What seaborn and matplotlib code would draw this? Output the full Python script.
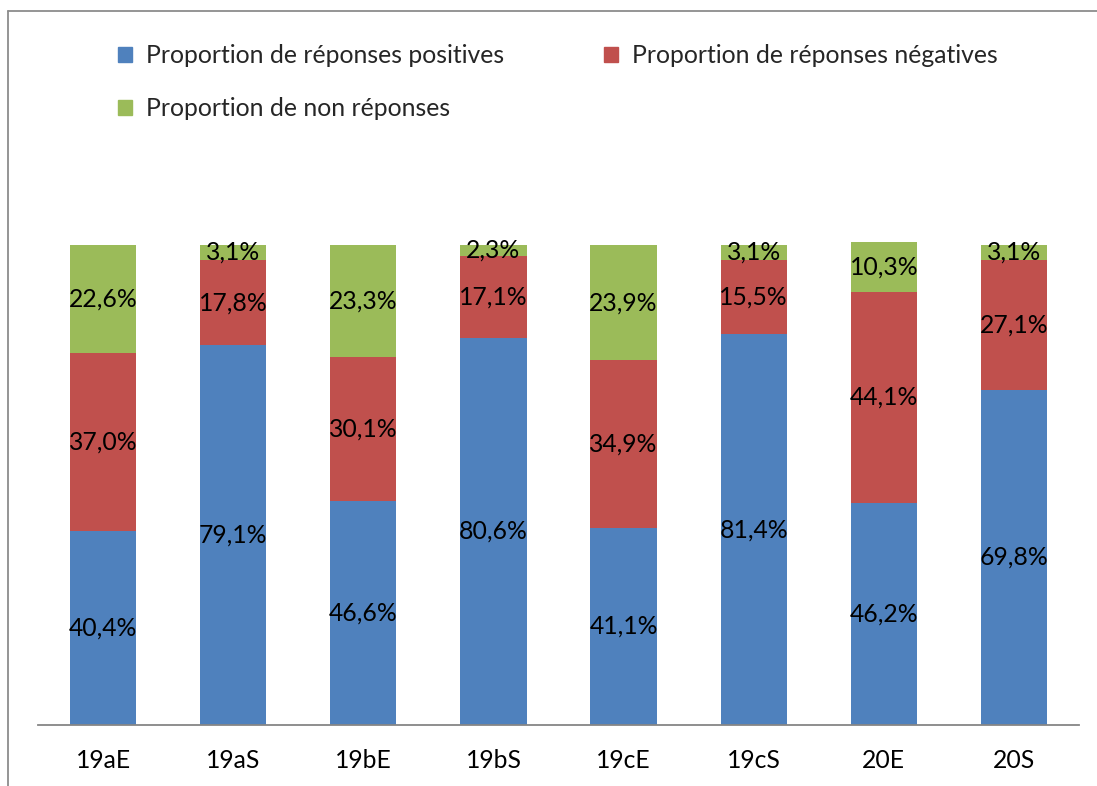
import matplotlib
matplotlib.use("Agg")
import matplotlib.pyplot as plt
import seaborn as sns
import numpy as np
import pandas as pd
from matplotlib.patches import Patch
from matplotlib.lines import Line2D

categories = ["19aE", "19aS", "19bE", "19bS", "19cE", "19cS", "20E", "20S"]
positives = [40.4, 79.1, 46.6, 80.6, 41.1, 81.4, 46.2, 69.8]
negatives = [37.0, 17.8, 30.1, 17.1, 34.9, 15.5, 44.1, 27.1]
non_reponses = [22.6, 3.1, 23.3, 2.3, 23.9, 3.1, 10.3, 3.1]
series_names = ["Proportion de réponses positives",
                "Proportion de réponses négatives",
                "Proportion de non réponses"]
colors = ["#4F81BD", "#C0504D", "#9BBB59"]

sns.set_theme(style="white")
plt.rcParams['font.family'] = ['Lato', 'DejaVu Sans']

W, H = 1097, 786
fig = plt.figure(figsize=(W / 100, H / 100), dpi=100)
ax = fig.add_axes([38 / W, 61 / H, (1079 - 38) / W, 576 / H])

pos = np.array(positives)
neg = np.array(negatives)
non = np.array(non_reponses)
cum1 = pos
cum2 = pos + neg
cum3 = pos + neg + non

df = pd.DataFrame({"cat": categories, "c1": cum1, "c2": cum2, "c3": cum3})
for col, colr in [("c3", colors[2]), ("c2", colors[1]), ("c1", colors[0])]:
    sns.barplot(data=df, x="cat", y=col, color=colr, width=0.51,
                saturation=1, linewidth=0, ax=ax, errorbar=None)

fs = 17.8
for i in range(len(categories)):
    segs = [(0, cum1[i], pos[i]), (cum1[i], cum2[i], neg[i]), (cum2[i], cum3[i], non[i])]
    for lo, hi, v in segs:
        ax.text(i, (lo + hi) / 2, f"{v:.1f}%".replace(".", ","),
                ha="center", va="center", fontsize=fs, color="black")

ax.set_xlim(-0.5, len(categories) - 0.5)
ax.set_ylim(0, 120)
ax.set_xlabel("")
ax.set_ylabel("")
ax.set_yticks([])
for s in ["left", "right", "top"]:
    ax.spines[s].set_visible(False)
ax.spines["bottom"].set_color("#868686")
ax.spines["bottom"].set_linewidth(1.3)
ax.tick_params(axis="x", length=0, pad=17, labelsize=fs, colors="black")

handles = [Patch(color=colors[0], label=series_names[0]),
           Patch(color=colors[2], label=series_names[2]),
           Patch(color=colors[1], label=series_names[1])]
fig.legend(handles=handles, loc="upper left", ncol=2,
           bbox_to_anchor=(118 / W, 1 - 44 / H), frameon=False,
           fontsize=fs, handlelength=0.58, handleheight=0.58,
           handletextpad=0.55, columnspacing=4.03, labelspacing=1.23,
           borderpad=0, borderaxespad=0)

# outer chart frame (cut off at right and bottom)
fx = 8 / W
fy = 1 - 11 / H
fig.add_artist(Line2D([fx, fx], [0, fy], transform=fig.transFigure,
                      color="#8C8C8C", lw=1.3))
fig.add_artist(Line2D([fx, 1], [fy, fy], transform=fig.transFigure,
                      color="#8C8C8C", lw=1.3))

fig.savefig("out.png", dpi=100, facecolor="white")
